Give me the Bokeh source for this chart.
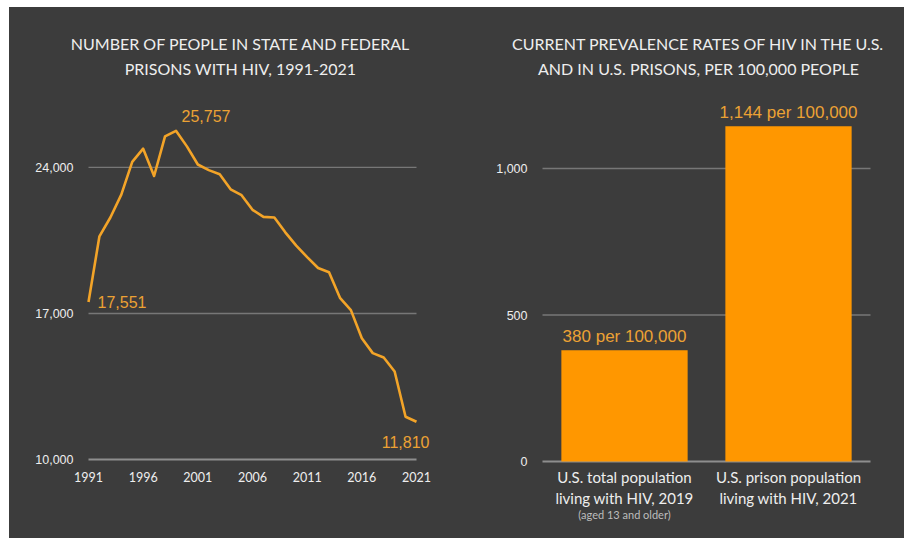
from bokeh.plotting import figure
from bokeh.layouts import row, column
from bokeh.models import (FixedTicker, NumeralTickFormatter, Range1d, LinearAxis,
                          Spacer, ColumnDataSource)
from bokeh.core.properties import value
from bokeh.embed import file_html
from bokeh.resources import INLINE

# ---------------- data ----------------
years = list(range(1991, 2022))
hiv_counts = [17551, 20700, 21600, 22700, 24270, 24900, 23590, 25490, 25757, 25010,
              24140, 23870, 23670, 22950, 22670, 21970, 21630, 21600, 20890, 20250,
              19700, 19180, 18980, 17750, 17160, 15810, 15100, 14890, 14220, 12050, 11810]
left_yticks = [10000, 17000, 24000]
left_xticks = [1991, 1996, 2001, 2006, 2011, 2016, 2021]
left_title = ["NUMBER OF PEOPLE IN STATE AND FEDERAL", "PRISONS WITH HIV, 1991-2021"]

bar_cats = ["U.S. total population\nliving with HIV, 2019",
            "U.S. prison population\nliving with HIV, 2021"]
bar_values = [380, 1144]
bar_labels = ["380 per 100,000", "1,144 per 100,000"]
bar_note = "(aged 13 and older)"
right_yticks = [0, 500, 1000]
right_title = ["CURRENT PREVALENCE RATES OF HIV IN THE U.S.",
               "AND IN U.S. PRISONS, PER 100,000 PEOPLE"]

# ---------------- style ----------------
BG = "#3c3c3c"
LINE = "#f3a428"
BAR = "#ff9700"
LAB = "#eca234"
GRID = "#777777"
BASE = "#8e8e8e"
TXT = "#eeeeee"
TITLE_FONT = "Lato"


def clean_axis(ax):
    ax.axis_line_color = None
    ax.major_tick_line_color = None
    ax.minor_tick_line_color = None
    ax.major_tick_out = 0
    ax.major_label_text_color = TXT


# ---------------- left chart ----------------
px_per_year = 328 / 30.0
px_per_k = 21.0
x0 = 1991 - 28 / px_per_year
x1 = 2021 + 44 / px_per_year
y0 = 10000 - 4 * 1000 / px_per_k
y1 = 10000 + 455 * 1000 / px_per_k

p1 = figure(width=451, height=531, output_backend="svg", toolbar_location=None,
            x_range=Range1d(x0, x1), y_range=Range1d(y0, y1),
            min_border_left=51, min_border_right=0, min_border_top=0, min_border_bottom=72,
            background_fill_color=BG, border_fill_color=BG)
p1.outline_line_color = None
p1.grid.visible = False

gcol = [BASE if t == left_yticks[0] else GRID for t in left_yticks]
gw = [2 if t == left_yticks[0] else 1.3 for t in left_yticks]
p1.segment(x0=[years[0]] * len(left_yticks), x1=[years[-1]] * len(left_yticks),
           y0=left_yticks, y1=left_yticks, line_color=gcol, line_width=gw)

p1.line(years, hiv_counts, line_color=LINE, line_width=2.6, line_join="round")

imax = hiv_counts.index(max(hiv_counts))
ann = ColumnDataSource(dict(
    x=[years[0], years[imax], years[-1]],
    y=[hiv_counts[0], hiv_counts[imax], hiv_counts[-1]],
    t=[f"{hiv_counts[0]:,}", f"{hiv_counts[imax]:,}", f"{hiv_counts[-1]:,}"],
    align=["left", "center", "right"],
    xo=[9, 30, 13],
    yo=[0, -15, 20],
))
p1.text(x="x", y="y", text="t", source=ann, text_align="align", text_baseline="middle",
        x_offset="xo", y_offset="yo", text_color=LAB, text_font=value("Liberation Sans"),
        text_font_size="16px")

p1.yaxis.ticker = FixedTicker(ticks=left_yticks)
p1.yaxis.formatter = NumeralTickFormatter(format="0,0")
p1.xaxis.ticker = FixedTicker(ticks=left_xticks)
clean_axis(p1.xaxis[0])
clean_axis(p1.yaxis[0])
p1.yaxis.major_label_text_font = "Liberation Sans"
p1.yaxis.major_label_text_font_size = "12.5px"
p1.xaxis.major_label_text_font = TITLE_FONT
p1.xaxis.major_label_text_font_size = "12.5px"
p1.yaxis.major_label_standoff = -13
p1.xaxis.major_label_standoff = 8

tx = 1991 + (240 - 88) / px_per_year
ty = [10000 + (462 - (43 + 25 * i)) * 1000 / px_per_k for i in range(len(left_title))]
p1.text(x=[tx] * len(left_title), y=ty, text=left_title, text_align="center",
        text_baseline="middle", text_color=TXT, text_font=value(TITLE_FONT),
        text_font_size="16px")

# ---------------- right chart ----------------
px_per_unit = 0.293
px_per_cat = 164.0
rx0 = -(542 - 500) / px_per_cat
rx1 = (904 - 542) / px_per_cat
ry0 = -2 / px_per_unit
ry1 = (461 - 7) / px_per_unit

bar_x = [i + 0.5 for i in range(len(bar_cats))]

p2 = figure(width=444, height=531, output_backend="svg", toolbar_location=None,
            x_range=Range1d(rx0, rx1), y_range=Range1d(ry0, ry1),
            min_border_left=40, min_border_right=0, min_border_top=0, min_border_bottom=75,
            background_fill_color=BG, border_fill_color=BG)
p2.outline_line_color = None
p2.grid.visible = False

gcol2 = [BASE if t == right_yticks[0] else GRID for t in right_yticks]
gw2 = [2 if t == right_yticks[0] else 1.3 for t in right_yticks]
p2.segment(x0=[0] * len(right_yticks), x1=[len(bar_cats)] * len(right_yticks),
           y0=right_yticks, y1=right_yticks, line_color=gcol2, line_width=gw2)

src = ColumnDataSource(dict(x=bar_x, top=bar_values, lab=bar_labels))
p2.vbar(x="x", top="top", width=0.77, source=src, fill_color=BAR, line_color=None)
p2.text(x="x", y="top", text="lab", source=src, text_align="center", text_baseline="middle",
        y_offset=-14, text_color=LAB, text_font=value("Liberation Sans"), text_font_size="17px")

p2.yaxis.ticker = FixedTicker(ticks=right_yticks)
p2.yaxis.formatter = NumeralTickFormatter(format="0,0")
clean_axis(p2.yaxis[0])
p2.yaxis.major_label_text_font = "Liberation Sans"
p2.yaxis.major_label_text_font_size = "12.5px"
p2.yaxis.major_label_standoff = -27

xa = p2.xaxis[0]
xa.ticker = FixedTicker(ticks=bar_x)
xa.major_label_overrides = {bx: c for bx, c in zip(bar_x, bar_cats)}
clean_axis(xa)
xa.major_label_text_font = TITLE_FONT
xa.major_label_text_font_size = "15px"
xa.major_label_standoff = 4

note_axis = LinearAxis(ticker=FixedTicker(ticks=[bar_x[0]]),
                       major_label_overrides={bar_x[0]: bar_note})
clean_axis(note_axis)
note_axis.major_label_text_color = "#bdbdbd"
note_axis.major_label_text_font = TITLE_FONT
note_axis.major_label_text_font_size = "11px"
note_axis.major_label_standoff = -3
p2.add_layout(note_axis, "below")

rtx = (698 - 542) / px_per_cat
rty = [(461 - (43 + 25 * i)) / px_per_unit for i in range(len(right_title))]
p2.text(x=[rtx] * len(right_title), y=rty, text=right_title, text_align="center",
        text_baseline="middle", text_color=TXT, text_font=value(TITLE_FONT),
        text_font_size="16px")

charts = row(p1, p2, styles={"background-color": BG})
layout = column(Spacer(height=7), row(Spacer(width=9), charts))
open("out.html", "w").write(file_html(layout, INLINE))
